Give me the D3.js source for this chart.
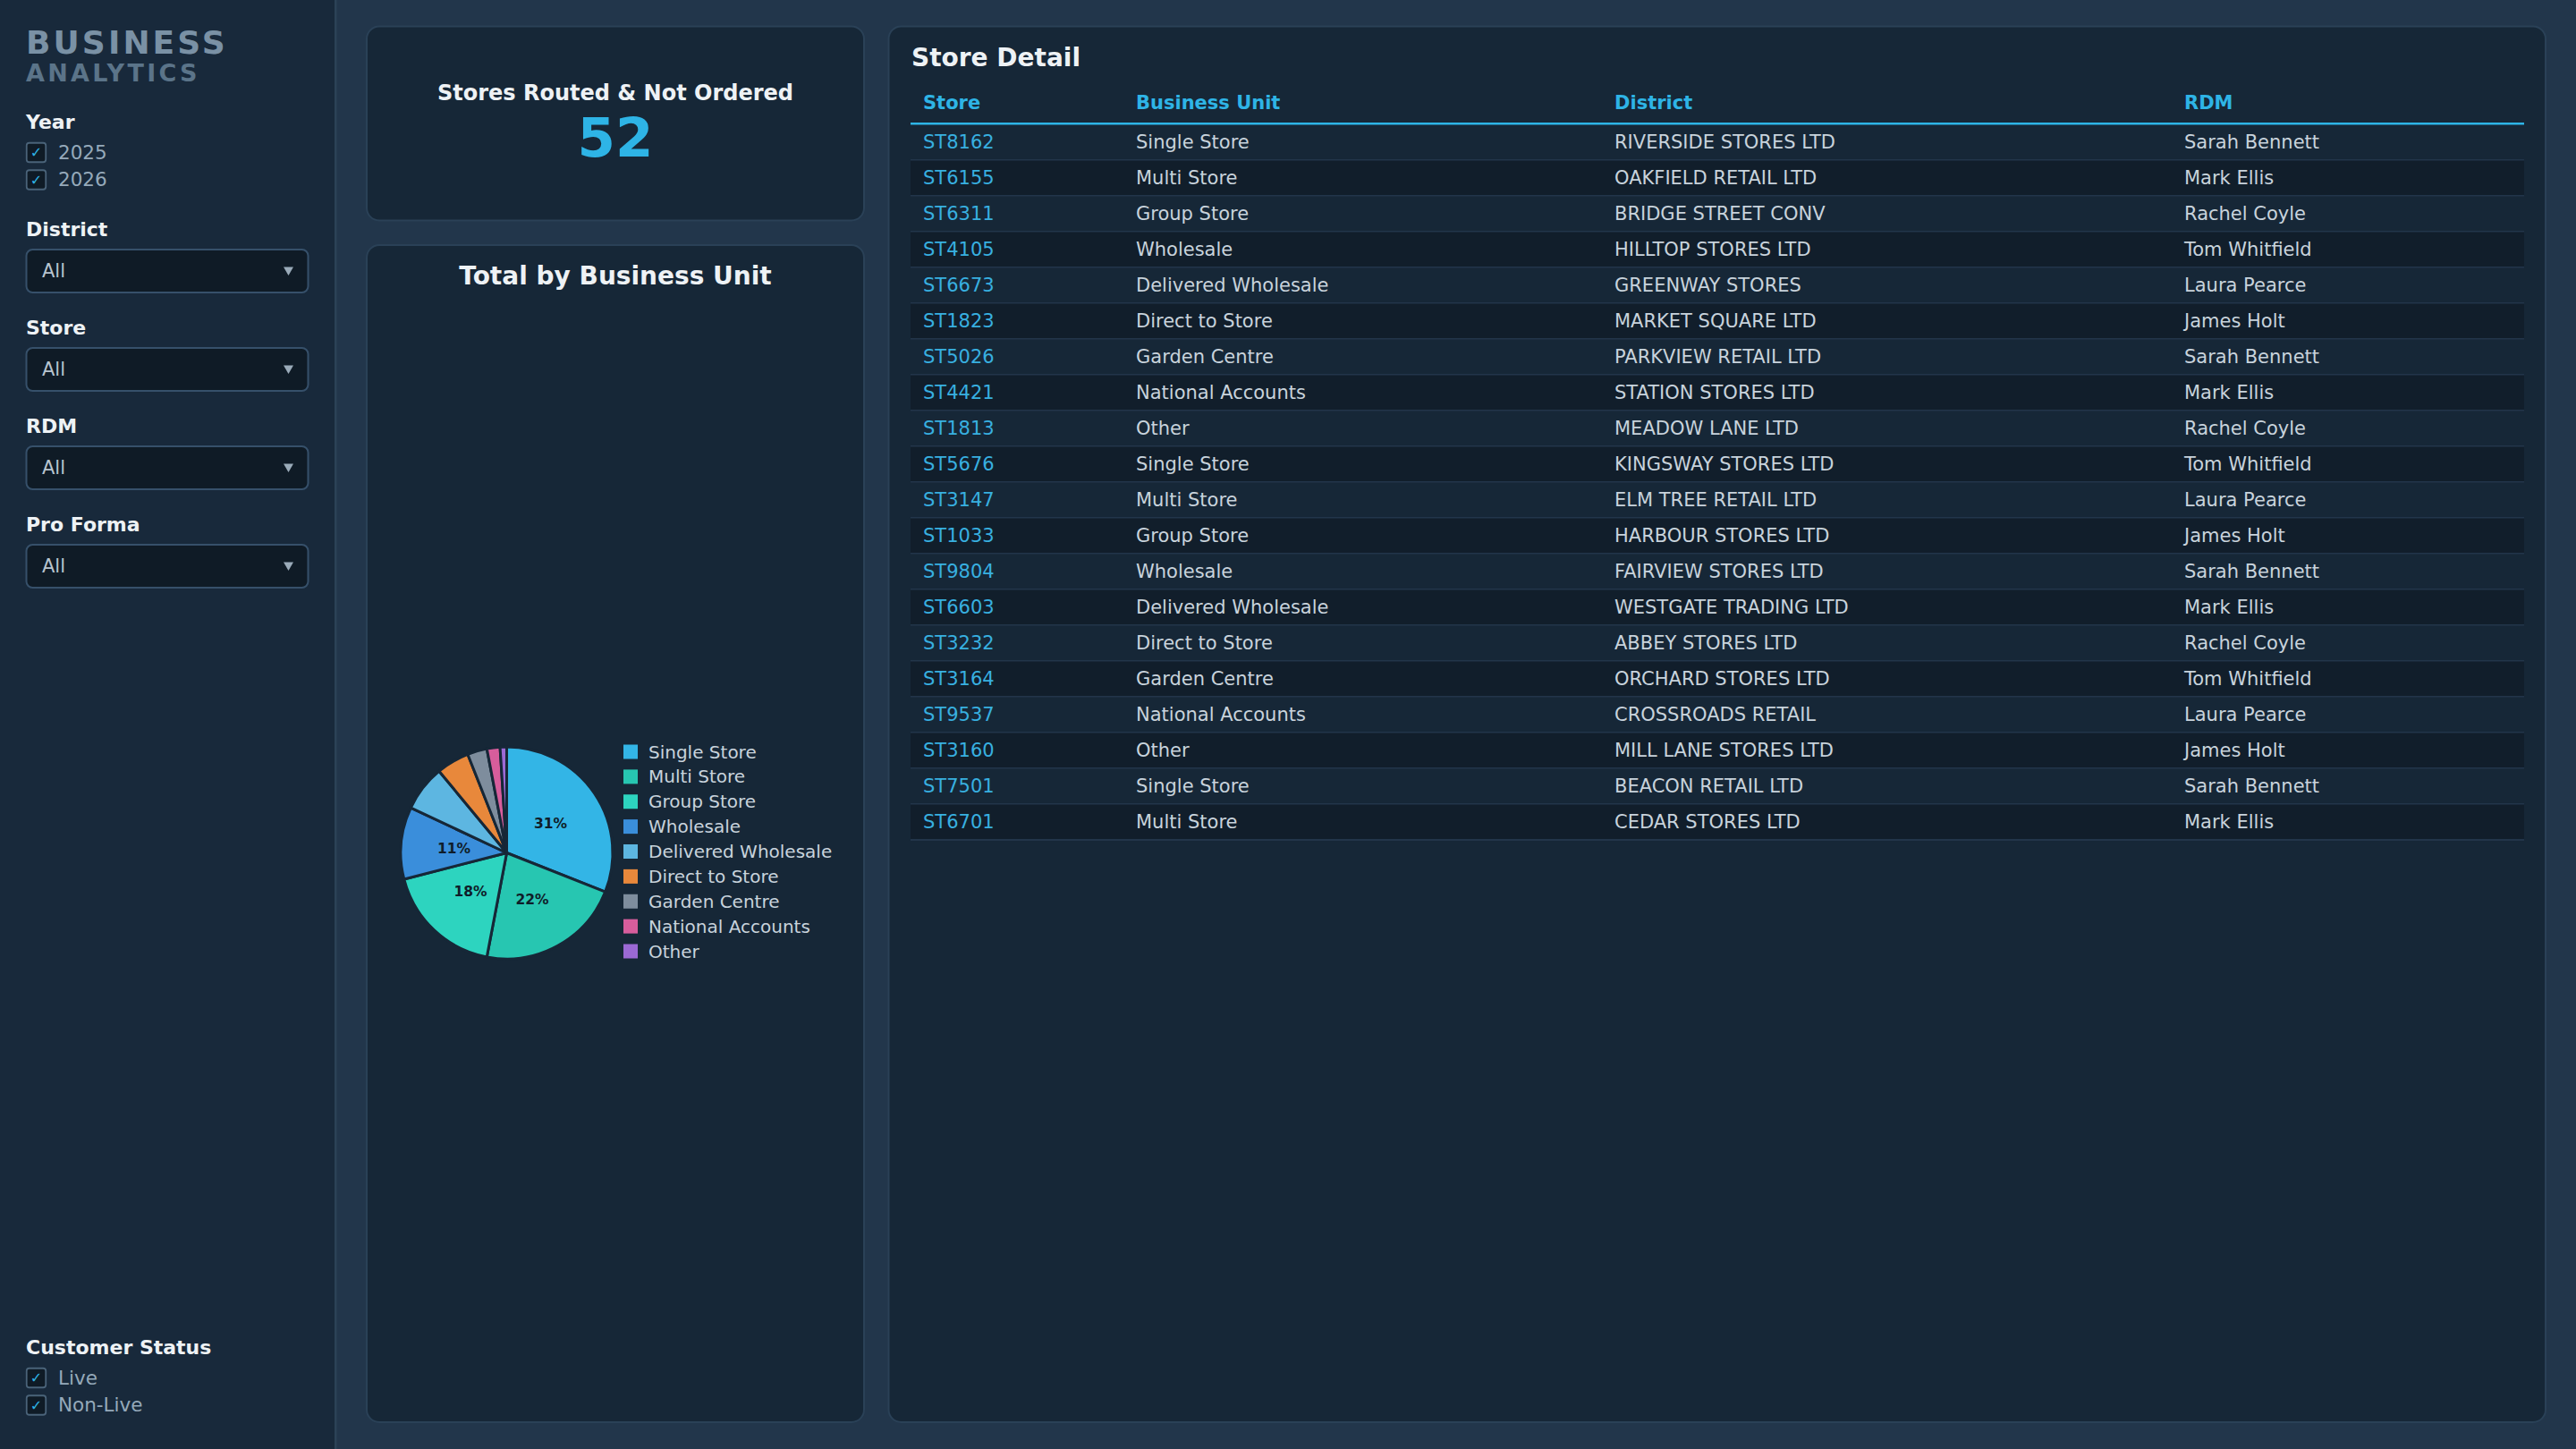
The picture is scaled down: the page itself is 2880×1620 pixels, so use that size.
<!DOCTYPE html>
<html><head><meta charset="utf-8">
<script src="https://cdn.jsdelivr.net/npm/d3@7"></script>
<style>
html,body{margin:0;padding:0;background:#22364b;overflow:hidden}
svg{display:block}
text{font-family:"DejaVu Sans",sans-serif}
</style>
</head><body>
<svg id="chart" width="2880" height="1620"></svg>
<script>
// ---------- DATA ----------
const businessUnits = ["Single Store","Multi Store","Group Store","Wholesale","Delivered Wholesale","Direct to Store","Garden Centre","National Accounts","Other"];
const unitShares = [31,22,18,11,7,5,3,2,1];
const unitColors = ["#33b5e6","#27c6b1","#2dd4bf","#3a8edb","#5db6e1","#e8883b","#7e8d9d","#d75d9c","#9b69d4"];

const kpiTitle = "Stores Routed & Not Ordered";
const kpiValue = 52;

const yearOptions = ["2025","2026"];
const filterNames = ["District","Store","RDM","Pro Forma"];
const filterValues = ["All","All","All","All"];
const statusOptions = ["Live","Non-Live"];

const tableColumns = ["Store","Business Unit","District","RDM"];
const storeIds = ["ST8162","ST6155","ST6311","ST4105","ST6673","ST1823","ST5026","ST4421","ST1813","ST5676","ST3147","ST1033","ST9804","ST6603","ST3232","ST3164","ST9537","ST3160","ST7501","ST6701"];
const storeUnits = ["Single Store","Multi Store","Group Store","Wholesale","Delivered Wholesale","Direct to Store","Garden Centre","National Accounts","Other","Single Store","Multi Store","Group Store","Wholesale","Delivered Wholesale","Direct to Store","Garden Centre","National Accounts","Other","Single Store","Multi Store"];
const storeDistricts = ["RIVERSIDE STORES LTD","OAKFIELD RETAIL LTD","BRIDGE STREET CONV","HILLTOP STORES LTD","GREENWAY STORES","MARKET SQUARE LTD","PARKVIEW RETAIL LTD","STATION STORES LTD","MEADOW LANE LTD","KINGSWAY STORES LTD","ELM TREE RETAIL LTD","HARBOUR STORES LTD","FAIRVIEW STORES LTD","WESTGATE TRADING LTD","ABBEY STORES LTD","ORCHARD STORES LTD","CROSSROADS RETAIL","MILL LANE STORES LTD","BEACON RETAIL LTD","CEDAR STORES LTD"];
const storeRdms = ["Sarah Bennett","Mark Ellis","Rachel Coyle","Tom Whitfield","Laura Pearce","James Holt","Sarah Bennett","Mark Ellis","Rachel Coyle","Tom Whitfield","Laura Pearce","James Holt","Sarah Bennett","Mark Ellis","Rachel Coyle","Tom Whitfield","Laura Pearce","James Holt","Sarah Bennett","Mark Ellis"];

// ---------- STYLE ----------
const C = {
  page:"#22364b", side:"#18293b", sideEdge:"#2b4257", card:"#162737", cardEdge:"#2a4157",
  blue:"#2eb4e6", idBlue:"#38b0e0", white:"#eef2f5", text:"#c8d3dc", muted:"#95a9ba",
  selBg:"#0f1b26", selEdge:"#36506a", boxEdge:"#4a6379", alt:"#111e2b", sep:"#22354a"
};
const svg = d3.select("#chart");

// ---------- SIDEBAR ----------
svg.append("rect").attr("x",0).attr("y",0).attr("width",374).attr("height",1620).attr("fill",C.side);
svg.append("rect").attr("x",374).attr("y",0).attr("width",2.5).attr("height",1620).attr("fill",C.sideEdge);

svg.append("text").attr("x",29).attr("y",60).attr("font-size",36).attr("font-weight","bold")
  .attr("letter-spacing",3.1).attr("fill","#7a91a5").text("BUSINESS");
svg.append("text").attr("x",29).attr("y",90.5).attr("font-size",27).attr("font-weight","bold")
  .attr("letter-spacing",3.3).attr("fill","#5b7489").text("ANALYTICS");

function label(y, t){
  svg.append("text").attr("x",29).attr("y",y).attr("font-size",22).attr("font-weight","bold")
    .attr("fill",C.white).text(t);
}
function checks(y0, opts){
  const g = svg.append("g");
  const yS = d3.scalePoint().domain(opts).range([y0, y0+30.5]);
  const row = g.selectAll("g").data(opts).join("g").attr("transform",d=>`translate(29,${yS(d)})`);
  row.append("rect").attr("x",0.75).attr("y",0.75).attr("width",21.5).attr("height",21.5).attr("rx",3)
    .attr("fill",C.selBg).attr("stroke",C.boxEdge).attr("stroke-width",1.8);
  row.append("text").attr("x",11.5).attr("y",17).attr("text-anchor","middle").attr("font-size",16)
    .attr("fill",C.blue).text("\u2713");
  row.append("text").attr("x",36).attr("y",18.5).attr("font-size",21.5).attr("fill",C.muted).text(d=>d);
}
label(143.5,"Year");
checks(159, yearOptions);

const fY = d3.scaleLinear().domain([0,1]).range([263.5,373.5]);
filterNames.forEach((name,i)=>{
  const ly = fY(i);
  label(ly, name);
  const by = ly + 15.5;
  svg.append("rect").attr("x",29.5).attr("y",by).attr("width",315).attr("height",48).attr("rx",7)
    .attr("fill",C.selBg).attr("stroke",C.selEdge).attr("stroke-width",2);
  svg.append("text").attr("x",47).attr("y",by+31).attr("font-size",21).attr("fill","#b7c4cf").text(filterValues[i]);
  svg.append("path").attr("d",`M317,${by+19.5}L328,${by+19.5}L322.5,${by+29}Z`).attr("fill","#9aabb9");
});

label(1513.5,"Customer Status");
checks(1529, statusOptions);

// ---------- CARDS ----------
function card(x,y,w,h){
  svg.append("rect").attr("x",x).attr("y",y).attr("width",w).attr("height",h).attr("rx",14)
    .attr("fill",C.card).attr("stroke",C.cardEdge).attr("stroke-width",2);
}
card(410,29.5,556,217);
card(410,274,556,1316);
card(993.5,29.5,1852.5,1560.5);

// KPI
svg.append("text").attr("x",688).attr("y",112).attr("text-anchor","middle").attr("font-size",24)
  .attr("font-weight","bold").attr("fill",C.white).text(kpiTitle);
svg.append("text").attr("x",688).attr("y",175).attr("text-anchor","middle").attr("font-size",61)
  .attr("font-weight","bold").attr("fill",C.blue).text(kpiValue);

// ---------- PIE ----------
svg.append("text").attr("x",688).attr("y",318).attr("text-anchor","middle").attr("font-size",28)
  .attr("font-weight","bold").attr("fill",C.white).text("Total by Business Unit");

const pieData = businessUnits.map((u,i)=>({unit:u, value:unitShares[i]}));
const color = d3.scaleOrdinal().domain(businessUnits).range(unitColors);
const total = d3.sum(unitShares);
const R = 118.5;
const pie = d3.pie().sort(null).value(d=>d.value);
const arc = d3.arc().innerRadius(0).outerRadius(R);
const labelArc = d3.arc().innerRadius(R*0.5).outerRadius(R*0.5);
const pg = svg.append("g").attr("transform","translate(566.5,953.5)");
const arcs = pie(pieData);
pg.selectAll("path").data(arcs).join("path").attr("d",arc)
  .attr("fill",d=>color(d.data.unit)).attr("stroke",C.card).attr("stroke-width",3).attr("stroke-linejoin","round");
pg.selectAll("text").data(arcs.filter(d=>d.data.value/total>=0.1)).join("text")
  .attr("transform",d=>`translate(${labelArc.centroid(d)})`)
  .attr("text-anchor","middle").attr("dy","0.36em").attr("font-size",15.5).attr("font-weight","bold")
  .attr("fill","#0f1d2a").text(d=>Math.round(d.data.value/total*100)+"%");

const legY = d3.scalePoint().domain(businessUnits).range([840.5,1063.5]);
const lg = svg.append("g");
const li = lg.selectAll("g").data(businessUnits).join("g").attr("transform",d=>`translate(697,${legY(d)})`);
li.append("rect").attr("x",0).attr("y",-8).attr("width",16).attr("height",16).attr("fill",d=>color(d));
li.append("text").attr("x",28).attr("y",7).attr("font-size",20).attr("fill",C.text).text(d=>d);

// ---------- TABLE ----------
svg.append("text").attr("x",1019).attr("y",74).attr("font-size",28).attr("font-weight","bold")
  .attr("fill",C.white).text("Store Detail");

const tx0 = 1018, tx1 = 2822;
const colX = d3.scaleOrdinal().domain(tableColumns).range([1032,1270,1805,2442]);
svg.append("g").selectAll("text").data(tableColumns).join("text")
  .attr("x",d=>colX(d)).attr("y",121.5).attr("font-size",21).attr("font-weight","bold")
  .attr("fill",C.blue).text(d=>d);

const rows = storeIds.map((id,i)=>({Store:id,"Business Unit":storeUnits[i],District:storeDistricts[i],RDM:storeRdms[i],i}));
const rowY = d3.scaleBand().domain(d3.range(rows.length)).range([139.5,939.5]);
const tg = svg.append("g");
const rg = tg.selectAll("g").data(rows).join("g").attr("transform",d=>`translate(0,${rowY(d.i)})`);
rg.append("rect").attr("x",tx0).attr("y",0).attr("width",tx1-tx0).attr("height",rowY.bandwidth())
  .attr("fill",d=>d.i%2 ? C.alt : C.card);
rg.append("rect").attr("x",tx0).attr("y",rowY.bandwidth()-1.5).attr("width",tx1-tx0).attr("height",2)
  .attr("fill",C.sep);
rg.selectAll("text").data(d=>tableColumns.map(c=>({c,v:d[c]}))).join("text")
  .attr("x",d=>colX(d.c)).attr("y",26.5).attr("font-size",21)
  .attr("fill",d=>d.c==="Store"?C.idBlue:C.text).text(d=>d.v);
svg.append("rect").attr("x",tx0).attr("y",137).attr("width",tx1-tx0).attr("height",2.5).attr("fill",C.blue);
</script>
</body></html>
